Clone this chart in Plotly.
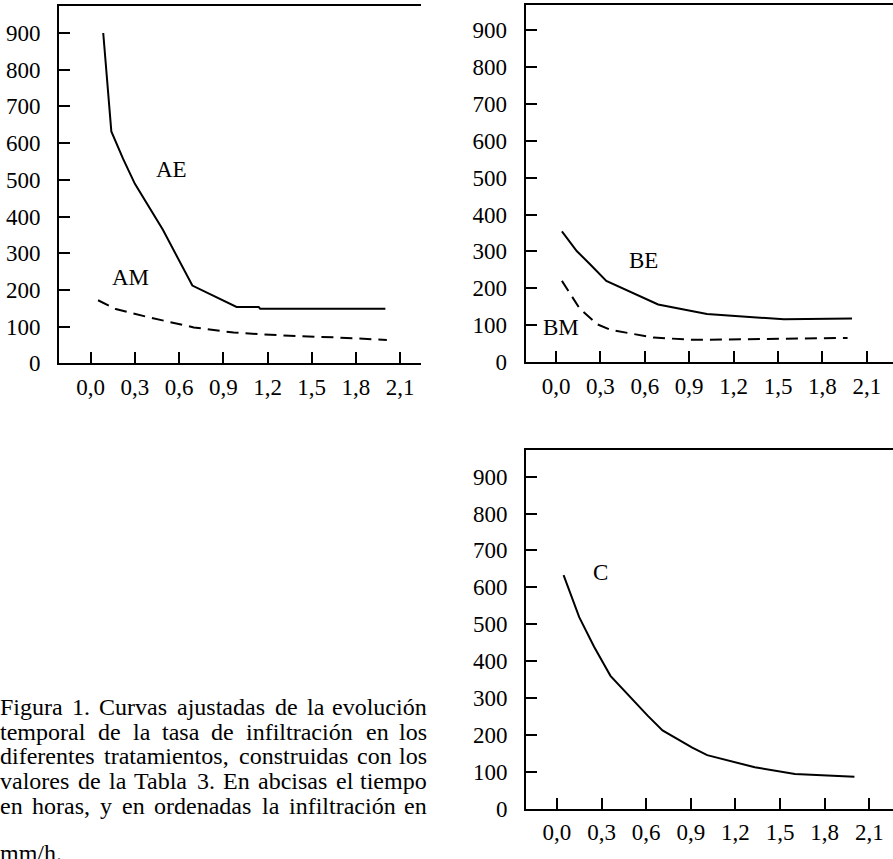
import plotly.graph_objects as go

# ---------------- data ----------------
tick_vals = [0.0, 0.3, 0.6, 0.9, 1.2, 1.5, 1.8, 2.1]
tick_text = ["0,0", "0,3", "0,6", "0,9", "1,2", "1,5", "1,8", "2,1"]
y_tick_vals = [0, 100, 200, 300, 400, 500, 600, 700, 800, 900]

ae_t = [0.085, 0.14, 0.22, 0.30, 0.49, 0.69, 0.99, 1.14, 1.15, 2.0]
ae_v = [900, 632, 557, 489, 364, 212, 154, 154, 149, 149]
am_t = [0.05, 0.17, 0.38, 0.70, 0.97, 1.31, 1.65, 2.01]
am_v = [172, 148, 127, 98, 84, 76, 71, 64]

be_t = [0.04, 0.14, 0.23, 0.34, 0.69, 1.02, 1.38, 1.54, 2.0]
be_v = [354, 301, 265, 220, 156, 130, 120, 116, 118]
bm_t = [0.04, 0.16, 0.28, 0.37, 0.66, 0.93, 1.97]
bm_v = [220, 145, 102, 87, 66, 60, 65]

c_t = [0.045, 0.15, 0.25, 0.36, 0.61, 0.71, 0.91, 1.01, 1.33, 1.60, 2.0]
c_v = [633, 519, 439, 360, 252, 212, 165, 145, 112, 94, 86]

caption_lines = [
    "Figura 1. Curvas ajustadas de la evolución",
    "temporal de la tasa de infiltración en los",
    "diferentes tratamientos, construidas con los",
    "valores de la Tabla 3. En abcisas el tiempo",
    "en horas, y en ordenadas la infiltración en",
    "mm/h.",
]

# ---------------- figure ----------------
W, H = 893, 859
FONT = "Liberation Serif"
FS = 23
CFS = 24

fig = go.Figure()

def px2paper_x(px):
    return px / W

def px2paper_y(py):
    return 1 - py / H

panels = [
    # (xaxis, yaxis, left px, right px, top px, bottom px, xrange, yrange)
    ("x", "y", 59, 421, 6, 369, [-0.2152, 2.2419], [0, 973.8]),
    ("x2", "y2", 525.7, 893, 5, 367.5, [-0.2047, 2.2770], [0, 968.7]),
    ("x3", "y3", 526, 893, 457.3, 821, [-0.2076, 2.2591], [0, 971.3]),
]

series = [
    ("x", "y", ae_t, ae_v, None),
    ("x", "y", am_t, am_v, "12px,7px"),
    ("x2", "y2", be_t, be_v, None),
    ("x2", "y2", bm_t, bm_v, "12px,7px"),
    ("x3", "y3", c_t, c_v, None),
]
for xa, ya, t, v, dash in series:
    ln = dict(color="black", width=2)
    if dash:
        ln["dash"] = dash
    fig.add_trace(go.Scatter(x=t, y=v, mode="lines", line=ln,
                             xaxis=xa, yaxis=ya, hoverinfo="skip"))

layout = dict(
    width=W, height=H,
    margin=dict(l=0, r=0, t=0, b=0),
    paper_bgcolor="white", plot_bgcolor="white",
    showlegend=False,
    font=dict(family=FONT, size=FS, color="black"),
)

for xa, ya, l, r, t, b, xr, yr in panels:
    xkey = "xaxis" if xa == "x" else "xaxis" + xa[1:]
    ykey = "yaxis" if ya == "y" else "yaxis" + ya[1:]
    layout[xkey] = dict(
        domain=[px2paper_x(l), min(1.0, px2paper_x(r))],
        anchor=ya, range=xr, showgrid=False, zeroline=False,
        showline=True, linecolor="black", linewidth=2, mirror=True,
        ticks="inside", ticklen=11, tickwidth=2, tickcolor="black",
        tickvals=tick_vals, ticktext=tick_text,
        tickfont=dict(family=FONT, size=FS, color="black"),
        ticklabelstandoff=2,
    )
    layout[ykey] = dict(
        domain=[px2paper_y(b), px2paper_y(t)],
        anchor=xa, range=yr, showgrid=False, zeroline=False,
        showline=True, linecolor="black", linewidth=2,
        ticks="inside", ticklen=11, tickwidth=2, tickcolor="black",
        tickvals=y_tick_vals,
        tickfont=dict(family=FONT, size=FS, color="black"),
        ticklabelstandoff=12,
    )

fig.update_layout(**layout)

# series labels
labels = [
    ("x", "y", 0.545, 528, "AE"),
    ("x", "y", 0.267, 233, "AM"),
    ("x2", "y2", 0.590, 274, "BE"),
    ("x2", "y2", 0.032, 94, "BM"),
    ("x3", "y3", 0.293, 639, "C"),
]
for xa, ya, x, y, txt in labels:
    fig.add_annotation(x=x, y=y, xref=xa, yref=ya, text=txt, showarrow=False,
                       font=dict(family=FONT, size=FS, color="black"),
                       xanchor="center", yanchor="middle")

# caption: justified text, placed word by word (Times metrics)
TW = {' ': 250, ',': 250, '.': 250, '/': 278, 'A': 722, 'B': 667, 'C': 667,
      'E': 611, 'F': 556, 'M': 889, 'T': 611, 'a': 444, 'b': 500, 'c': 444,
      'd': 500, 'e': 444, 'f': 333, 'g': 500, 'h': 500, 'i': 278, 'j': 278,
      'k': 500, 'l': 278, 'm': 778, 'n': 500, 'o': 500, 'p': 500, 'q': 500,
      'r': 333, 's': 389, 't': 278, 'u': 500, 'v': 500, 'w': 722, 'x': 500,
      'y': 500, 'z': 444, 'ó': 500}

def wwidth(w):
    return sum(TW.get(ch, 500) for ch in w) * CFS / 1000.0 * 1.015

LEFT, RIGHT = -1.0, 428.0
baselines = [726, 751, 776, 801, 826, 874]
for li, line in enumerate(caption_lines):
    words = line.split(" ")
    yc = baselines[li] - 0.3375 * CFS
    last = li == len(caption_lines) - 1
    if last:
        xs = [LEFT]
        for w in words[:-1]:
            xs.append(xs[-1] + wwidth(w) + 0.25 * CFS)
    else:
        widths = [wwidth(w) for w in words]
        gap = (RIGHT - LEFT - sum(widths)) / (len(words) - 1)
        xs = []
        x = LEFT
        for wdt in widths:
            xs.append(x)
            x += wdt + gap
    for wi, (w, x) in enumerate(zip(words, xs)):
        if not last and wi == len(words) - 1:
            ax, anchor = RIGHT, "right"
        else:
            ax, anchor = x, "left"
        fig.add_annotation(x=ax / W, y=1 - yc / H, xref="paper", yref="paper",
                           text=w, showarrow=False, xanchor=anchor, yanchor="middle",
                           borderpad=0,
                           font=dict(family=FONT, size=CFS, color="black"))

fig.write_html(
    "out.html",
    config={"displayModeBar": False},
    post_script="document.body.style.margin='0px';document.body.style.overflow='hidden';",
)
